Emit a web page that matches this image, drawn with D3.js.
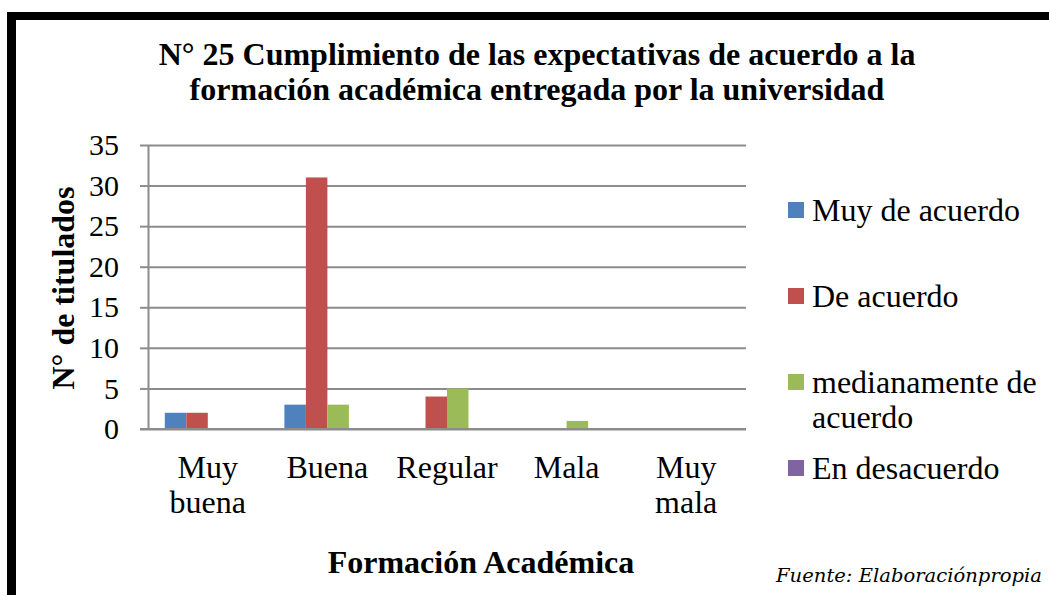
<!DOCTYPE html>
<html>
<head>
<meta charset="utf-8">
<script src="https://cdn.jsdelivr.net/npm/d3@7"></script>
<style>
    body { margin: 0; background: #fff; }
    svg { display: block; }
</style>
</head>
<body>
<div id="chart"></div>
<script>
// Chart data
const categories = ["Muy buena", "Buena", "Regular", "Mala", "Muy mala"];
const seriesNames = ["Muy de acuerdo", "De acuerdo", "medianamente de acuerdo", "En desacuerdo"];
const muyDeAcuerdo = [2, 3, 0, 0, 0];
const deAcuerdo = [2, 31, 4, 0, 0];
const medianamente = [0, 3, 5, 1, 0];
const enDesacuerdo = [0, 0, 0, 0, 0];
const yTicks = [0, 5, 10, 15, 20, 25, 30, 35];

// category labels split on two lines where the original wraps
const categoryLines = {
    "Muy buena": ["Muy", "buena"],
    "Buena": ["Buena"],
    "Regular": ["Regular"],
    "Mala": ["Mala"],
    "Muy mala": ["Muy", "mala"]
};
const legendLines = {
    "Muy de acuerdo": ["Muy de acuerdo"],
    "De acuerdo": ["De acuerdo"],
    "medianamente de acuerdo": ["medianamente de", "acuerdo"],
    "En desacuerdo": ["En desacuerdo"]
};

const allSeries = [muyDeAcuerdo, deAcuerdo, medianamente, enDesacuerdo];
const colors = ["#4F81BD", "#C0504D", "#9BBB59", "#8064A2"];

const width = 1049;
const height = 595;
const serif = "'Liberation Serif', 'Times New Roman', serif";
const labelSize = 32;

let svg = d3.select("#chart")
    .append("svg")
    .attr("width", width)
    .attr("height", height);

// Frame (black lines at top and left)
svg.append("rect").attr("x", 7).attr("y", 12).attr("width", width - 7).attr("height", 8).attr("fill", "#000");
svg.append("rect").attr("x", 7).attr("y", 12).attr("width", 9).attr("height", height - 12).attr("fill", "#000");

// Plot area
let plotLeft = 148, plotRight = 746, plotTop = 145, plotBottom = 429;

let x0 = d3.scaleBand()
    .domain(categories)
    .range([plotLeft, plotRight])
    .paddingInner(0.281)
    .paddingOuter(0.1405);

let x1 = d3.scaleBand()
    .domain(seriesNames)
    .range([0, x0.bandwidth()]);

let y = d3.scaleLinear()
    .domain([0, 35])
    .range([plotBottom, plotTop]);

// Gridlines
let grid = svg.append("g")
    .attr("transform", `translate(${plotLeft},0)`)
    .call(d3.axisRight(y).tickValues(yTicks).tickSize(plotRight - plotLeft).tickFormat(""));
grid.select(".domain").remove();
grid.selectAll("line").attr("stroke", "#8c8c8c").attr("stroke-width", 2);

// Y axis
let axisY = svg.append("g")
    .attr("transform", `translate(${plotLeft},0)`)
    .call(d3.axisLeft(y).tickValues(yTicks).tickSize(8).tickPadding(21).tickSizeOuter(0));
axisY.select(".domain").attr("stroke", "#8c8c8c").attr("stroke-width", 2);
axisY.selectAll("line").attr("stroke", "#8c8c8c").attr("stroke-width", 2);
axisY.selectAll("text")
    .style("font-family", serif)
    .style("font-size", "30px")
    .attr("fill", "#000");

// Bars
let groups = svg.append("g")
    .selectAll("g")
    .data(categories)
    .enter().append("g")
    .attr("transform", d => `translate(${x0(d)},0)`);

groups.selectAll("rect")
    .data((d, i) => seriesNames.map((s, j) => ({ series: s, value: allSeries[j][i], color: colors[j] })))
    .enter().append("rect")
    .attr("x", d => x1(d.series))
    .attr("width", x1.bandwidth())
    .attr("y", d => y(d.value))
    .attr("height", d => y(0) - y(d.value))
    .attr("fill", d => d.color);

// X axis line on top of bars
svg.append("line")
    .attr("x1", plotLeft - 8).attr("x2", plotRight)
    .attr("y1", y(0)).attr("y2", y(0))
    .attr("stroke", "#8c8c8c").attr("stroke-width", 2);

// Category labels
let catText = svg.append("g")
    .selectAll("text")
    .data(categories)
    .enter().append("text")
    .attr("x", d => x0(d) + x0.bandwidth() / 2)
    .attr("y", 478)
    .attr("text-anchor", "middle")
    .style("font-family", serif)
    .style("font-size", labelSize + "px")
    .attr("fill", "#000");
catText.each(function(d) {
    let t = d3.select(this);
    let cx = x0(d) + x0.bandwidth() / 2;
    categoryLines[d].forEach((line, i) => {
        t.append("tspan").attr("x", cx).attr("dy", i == 0 ? 0 : 35).text(line);
    });
});

// Title
let title = svg.append("text")
    .attr("x", 537)
    .attr("y", 65)
    .attr("text-anchor", "middle")
    .style("font-family", serif)
    .style("font-weight", "bold")
    .style("font-size", "32px")
    .attr("fill", "#000");
title.append("tspan").attr("x", 537).attr("dy", 0).text("N° 25 Cumplimiento de las expectativas de acuerdo a la");
title.append("tspan").attr("x", 537).attr("dy", 35).text("formación académica entregada por la universidad");

// Axis titles
svg.append("text")
    .attr("transform", "translate(74,288) rotate(-90)")
    .attr("text-anchor", "middle")
    .style("font-family", serif)
    .style("font-weight", "bold")
    .style("font-size", "32px")
    .attr("fill", "#000")
    .text("N° de titulados");

svg.append("text")
    .attr("x", 481)
    .attr("y", 573)
    .attr("text-anchor", "middle")
    .style("font-family", serif)
    .style("font-weight", "bold")
    .style("font-size", "32px")
    .attr("fill", "#000")
    .text("Formación Académica");

// Legend
const legendY = [202, 288, 374, 460];
let legend = svg.append("g")
    .selectAll("g")
    .data(seriesNames)
    .enter().append("g")
    .attr("transform", (d, i) => `translate(788,${legendY[i]})`);

legend.append("rect")
    .attr("width", 16)
    .attr("height", 16)
    .attr("fill", (d, i) => colors[i]);

legend.append("text")
    .style("font-family", serif)
    .style("font-size", labelSize + "px")
    .attr("fill", "#000")
    .each(function(d) {
        let t = d3.select(this);
        legendLines[d].forEach((line, i) => {
            t.append("tspan").attr("x", 24).attr("y", 19 + i * 35).text(line);
        });
    });

// Source note
svg.append("text")
    .attr("x", 776)
    .attr("y", 582)
    .style("font-family", "'DejaVu Serif', serif")
    .style("font-style", "italic")
    .style("font-size", "19px")
    .attr("textLength", 266)
    .attr("lengthAdjust", "spacingAndGlyphs")
    .attr("fill", "#000")
    .text("Fuente: Elaboraciónpropia");
</script>
</body>
</html>
